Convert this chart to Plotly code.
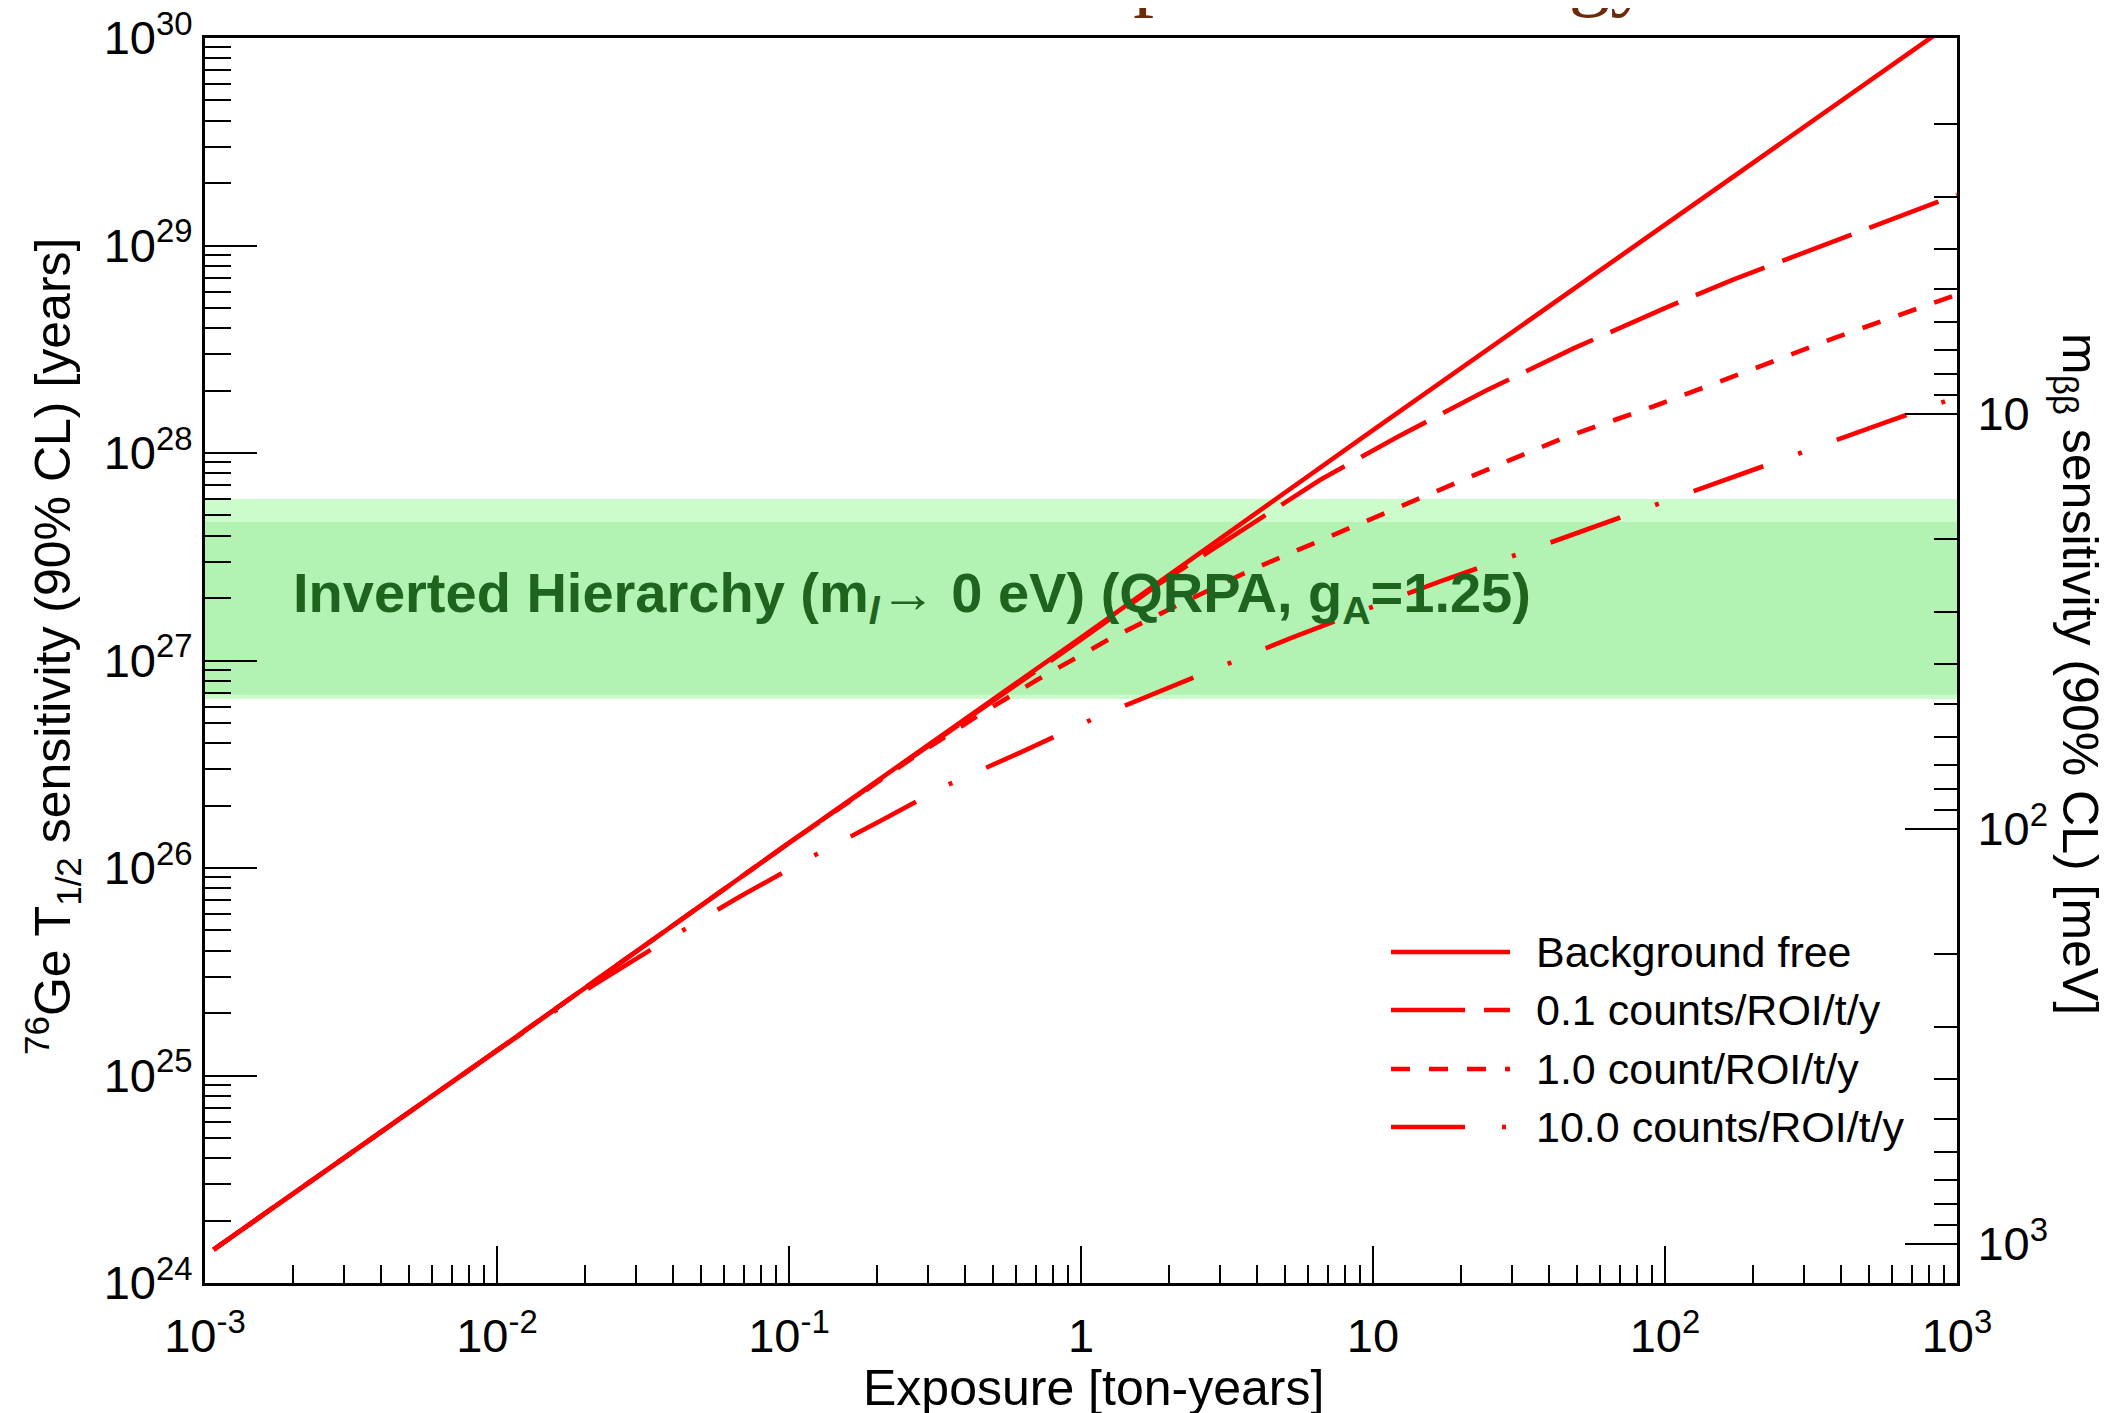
import plotly.graph_objects as go

# ---------------- data ----------------
bgfree_exposure = [0.00107, 0.01, 0.1, 1, 10, 100, 1000]
bgfree_t = [1.45e24, 1.32e25, 1.32e26, 1.29e27, 1.29e28, 1.26e29, 1.23e30]

bg01_exposure = [0.00107, 0.01, 0.1, 0.316, 1, 1.85, 3.4, 6.58, 12.2, 24.4, 48.8, 96.8, 172, 397, 1000]
bg01_t = [1.45e24, 1.32e25, 1.32e26, 4.07e26, 1.26e27, 2.34e27, 4.07e27, 7.41e27, 1.20e28,
          2.00e28, 3.20e28, 4.90e28, 6.87e28, 1.08e29, 1.76e29]

bg1_exposure = [0.00107, 0.01, 0.1, 0.268, 0.437, 0.706, 1.24, 2.08, 3.82, 8.34, 14.7, 25.9,
                45.5, 91.6, 217, 379, 1000]
bg1_t = [1.45e24, 1.32e25, 1.32e26, 3.43e26, 5.35e26, 8.05e26, 1.26e27, 1.81e27, 2.73e27,
         4.36e27, 6.14e27, 8.57e27, 1.19e28, 1.68e28, 2.65e28, 3.58e28, 5.8e28]

bg10_exposure = [0.00107, 0.01, 0.02, 0.0391, 0.0675, 0.1135, 0.203, 0.342, 0.624, 1.14, 1.58,
                 2.99, 5.28, 9.62, 16.9, 31.1, 54.5, 99.3, 175, 321, 566, 1000]
bg10_t = [1.45e24, 1.32e25, 2.57e25, 4.60e25, 7.24e25, 1.09e26, 1.67e26, 2.48e26, 3.62e26,
          5.35e26, 6.46e26, 9.33e26, 1.29e27, 1.78e27, 2.40e27, 3.24e27, 4.31e27, 5.81e27,
          7.74e27, 1.06e28, 1.40e28, 1.86e28]

series_names = ["Background free", "0.1 counts/ROI/t/y", "1.0 count/ROI/t/y", "10.0 counts/ROI/t/y"]

# inverted hierarchy band (half-life, years)
band_outer = [6.52e26, 6.0e27]
band_inner = [6.83e26, 4.65e27]
band_label = "Inverted Hierarchy (m<sub><i>l</i></sub>→ 0 eV) (QRPA, g<sub>A</sub>=1.25)"

x_tickvals = [1e-3, 1e-2, 1e-1, 1, 10, 100, 1000]
x_ticktext = ["10<sup>-3</sup>", "10<sup>-2</sup>", "10<sup>-1</sup>", "1", "10", "10<sup>2</sup>", "10<sup>3</sup>"]
y_tickvals = [1e24, 1e25, 1e26, 1e27, 1e28, 1e29, 1e30]
y_ticktext = ["10<sup>24</sup>", "10<sup>25</sup>", "10<sup>26</sup>", "10<sup>27</sup>",
              "10<sup>28</sup>", "10<sup>29</sup>", "10<sup>30</sup>"]
y2_tickvals = [10, 100, 1000]
y2_ticktext = ["10", "10<sup>2</sup>", "10<sup>3</sup>"]

# ---------------- styling ----------------
RED = "#ff0000"
LW = 4.6
dashes = ["solid", "74px,19px", "19px,19px", "74px,37px,4px,37px"]
FONT = "Liberation Sans, Arial, Helvetica, sans-serif"
NARROW = "Liberation Sans Narrow, Arial Narrow, Liberation Sans, Arial, sans-serif"

# the page body adds an 8 px offset; the plot frame lands at x 205..1957, y 38..1283 on screen
OFF = 8
W, H = 2115 - OFF, 1413 - OFF
L, R, T, B = 205 - OFF, 158, 38 - OFF, 130
X0, X1, Y0, Y1 = 205, 1957, 38, 1283


def px(xs):
    return (xs - X0) / (X1 - X0)


def py(ys):
    return (Y1 - ys) / (Y1 - Y0)


fig = go.Figure()
data = [(bgfree_exposure, bgfree_t), (bg01_exposure, bg01_t), (bg1_exposure, bg1_t), (bg10_exposure, bg10_t)]
for (xs, ys), name, d in zip(data, series_names, dashes):
    fig.add_trace(go.Scatter(x=xs, y=ys, mode="lines", name=name, showlegend=False,
                             line=dict(color=RED, width=LW, dash=d), hoverinfo="skip"))

# invisible trace so the right axis is created
fig.add_trace(go.Scatter(x=[1], y=[100], yaxis="y2", mode="markers", marker=dict(opacity=0),
                         showlegend=False, hoverinfo="skip"))

shapes = [
    dict(type="rect", xref="paper", yref="y", x0=0, x1=1, y0=band_outer[0], y1=band_outer[1],
         fillcolor="#ccfccc", line=dict(width=0), layer="below"),
    dict(type="rect", xref="paper", yref="y", x0=0, x1=1, y0=band_inner[0], y1=band_inner[1],
         fillcolor="#b2f2b2", line=dict(width=0), layer="below"),
]

# manual legend
leg_rows = [952, 1010, 1069, 1127]
annotations = []
for yrow, name, d in zip(leg_rows, series_names, dashes):
    shapes.append(dict(type="line", xref="paper", yref="paper", x0=px(1391), x1=px(1510),
                       y0=py(yrow), y1=py(yrow), line=dict(color=RED, width=LW, dash=d)))
    annotations.append(dict(xref="paper", yref="paper", x=px(1534), y=py(yrow), text=name,
                            showarrow=False, xanchor="left", yanchor="middle",
                            font=dict(family=FONT, size=43, color="black")))

# band label
annotations.append(dict(xref="paper", yref="paper", x=px(291), y=py(596), text=band_label,
                        showarrow=False, xanchor="left", yanchor="middle",
                        font=dict(family=NARROW, size=56, color="#1e641e", weight="bold")))

# axis titles
annotations.append(dict(xref="paper", yref="paper", x=px(1093), y=py(1388), text="Exposure [ton-years]",
                        showarrow=False, xanchor="center", yanchor="middle",
                        font=dict(family=FONT, size=50, color="black")))
annotations.append(dict(xref="paper", yref="paper", x=px(52), y=py(647),
                        text="<sup>76</sup>Ge T<sub>1/2</sub> sensitivity (90% CL) [years]",
                        textangle=-90, showarrow=False, xanchor="center", yanchor="middle",
                        font=dict(family=FONT, size=50, color="black")))
annotations.append(dict(xref="paper", yref="paper", x=px(2077), y=py(674),
                        text="m<sub>ββ</sub> sensitivity (90% CL) [meV]",
                        textangle=90, showarrow=False, xanchor="center", yanchor="middle",
                        font=dict(family=FONT, size=50, color="black")))

# cut-off slide title fragment at the very top (only descenders visible)
annotations.append(dict(xref="paper", yref="paper", x=px(1039), y=py(20), text="Exposure Strategy",
                        showarrow=False, xanchor="left", yanchor="bottom",
                        font=dict(family="Liberation Serif, Times New Roman, serif", size=83, color="#6b2a0a")))

minor_x = [m * 10.0 ** e for e in range(-3, 3) for m in range(2, 10)]
minor_y = [m * 10.0 ** e for e in range(24, 30) for m in range(2, 10)]
minor_y2 = [float(m * 10 ** e) for e in range(0, 3) for m in range(2, 10)]

TICKFONT = dict(family=FONT, size=47, color="black")

fig.update_layout(
    width=W, height=H,
    margin=dict(l=L, r=R, t=T, b=B, pad=0, autoexpand=False),
    paper_bgcolor="white", plot_bgcolor="white",
    font=dict(family=FONT, color="black"),
    showlegend=False,
    shapes=shapes, annotations=annotations,
    xaxis=dict(type="log", range=[-3, 3], showgrid=False, zeroline=False, automargin=False,
               showline=True, linecolor="black", linewidth=3, mirror=True,
               ticks="inside", ticklen=37, tickwidth=2, tickcolor="black",
               tickvals=x_tickvals, ticktext=x_ticktext, ticklabeloverflow="allow",
               tickfont=TICKFONT, ticklabelstandoff=10,
               minor=dict(tickvals=minor_x, ticks="inside", ticklen=18, tickwidth=2,
                          tickcolor="black", showgrid=False)),
    yaxis=dict(type="log", range=[24, 30], showgrid=False, zeroline=False, automargin=False,
               showline=True, linecolor="black", linewidth=3, mirror=False,
               ticks="inside", ticklen=52, tickwidth=2, tickcolor="black",
               tickvals=y_tickvals, ticktext=y_ticktext, ticklabeloverflow="allow",
               tickfont=TICKFONT, ticklabelstandoff=0,
               minor=dict(tickvals=minor_y, ticks="inside", ticklen=26, tickwidth=2,
                          tickcolor="black", showgrid=False)),
    yaxis2=dict(type="log", range=[3.094, 0.094], overlaying="y", side="right",
                showgrid=False, zeroline=False, automargin=False,
                showline=True, linecolor="black", linewidth=3,
                ticks="inside", ticklen=52, tickwidth=2, tickcolor="black",
                tickvals=y2_tickvals, ticktext=y2_ticktext, ticklabeloverflow="allow",
                tickfont=TICKFONT, ticklabelstandoff=8,
                minor=dict(tickvals=minor_y2, ticks="inside", ticklen=23, tickwidth=2,
                           tickcolor="black", showgrid=False)),
)

fig.write_html("out.html")
